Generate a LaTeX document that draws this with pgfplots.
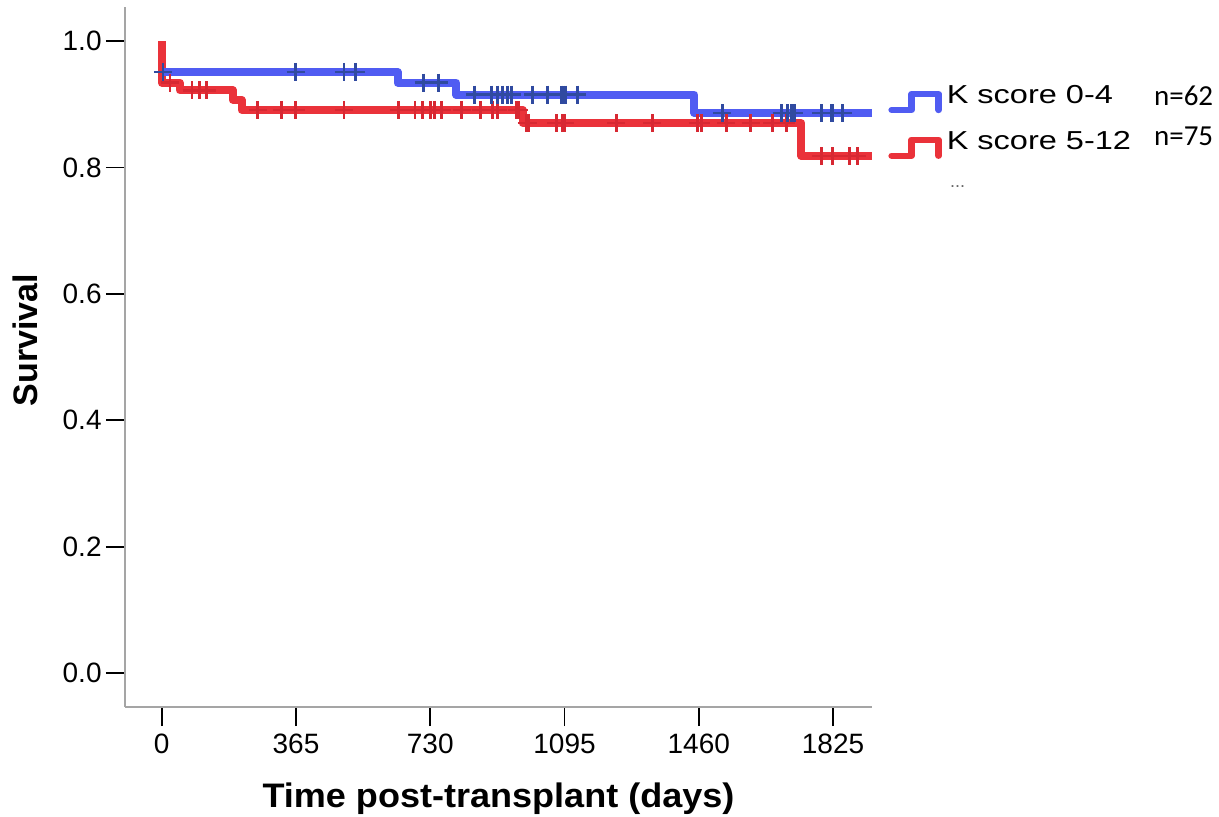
\documentclass[border=0pt]{standalone}
\usepackage{fontspec}
\setmainfont{Liberation Sans}
\newfontfamily\legfont[FakeStretch=1.25]{Liberation Sans}
\newfontfamily\xlabfont[FakeStretch=1.06]{Liberation Sans}
\newfontfamily\nfont{Carlito}
\usepackage{pgfplots}
\pgfplotsset{compat=1.18}
\definecolor{kblue}{RGB}{80,92,242}
\definecolor{kred}{RGB}{234,50,58}
\definecolor{cblue}{RGB}{48,74,160}
\definecolor{cred}{RGB}{215,40,50}
\definecolor{axgray}{RGB}{165,165,165}
\begin{document}
\begin{tikzpicture}
\useasboundingbox (-62.5pt,-54.5pt) rectangle (547pt,353.5pt);
\begin{axis}[
  at={(0pt,0pt)}, anchor=south west,
  scale only axis, width=373.5pt, height=350pt,
  xmin=-100, xmax=1931, ymin=-0.0538, ymax=1.0538,
  axis x line*=bottom, axis y line*=left,
  axis line style={-, axgray, line width=1.1pt},
  xtick={0,365,730,1095,1460,1825},
  xticklabels={0,365,730,1095,1460,1825},
  ytick={0,0.2,0.4,0.6,0.8,1.0},
  yticklabels={0.0,0.2,0.4,0.6,0.8,1.0},
  tick align=outside, major tick length=9.5pt,
  tick style={black, line width=0.9pt},
  ticklabel style={font=\fontsize{14}{16}\selectfont},
  yticklabel style={inner xsep=2pt},
  xticklabel style={inner ysep=4pt},
  xlabel={Time post-transplant (days)},
  xlabel style={font=\xlabfont\fontsize{17}{20}\selectfont\bfseries, at={(axis description cs:0.5,0)}, anchor=base, yshift=-50pt},
  ylabel={Survival},
  ylabel style={font=\fontsize{17}{20}\selectfont\bfseries, at={(axis description cs:-0.1178,0.5243)}, anchor=base},
  legend style={at={(axis description cs:1.0214,0.8886)}, anchor=north west, draw=none, fill=none, inner sep=0pt, row sep=9pt, column sep=2.5pt, nodes={inner sep=0pt, font=\legfont\fontsize{13}{15}\selectfont}},
  legend cell align=left,
  reverse legend,
  legend image code/.code={\draw[#1, line width=3.2pt, line cap=round, line join=round] (0pt,-7pt) -- (10pt,-7pt) -- (10pt,1pt) -- (23.5pt,1pt) -- (23.5pt,-7pt);},
]
% K score 5-12
\addplot[const plot, kred, line width=4pt, line join=round] coordinates {
(0,1) (0,0.934) (49,0.922) (193,0.907) (217,0.891) (981,0.870) (1739,0.818) (1931,0.818)};
\addlegendentry{K score 5-12}
\addplot[only marks, mark=+, mark size=4.5pt, cred, mark options={line width=1.3pt}, forget plot] coordinates {
(22,0.934) (82,0.922) (103,0.922) (122,0.922)
(261,0.891) (326,0.891) (364,0.891) (495,0.891) (644,0.891) (688,0.891) (709,0.891) (731,0.891) (742,0.891) (761,0.891) (815,0.891) (867,0.891) (899,0.891) (913,0.891) (965,0.891) (970,0.891)
(992,0.870) (997,0.870) (1073,0.870) (1090,0.870) (1095,0.870) (1236,0.870) (1334,0.870) (1457,0.870) (1467,0.870) (1535,0.870) (1601,0.870) (1660,0.870) (1698,0.870)
(1793,0.818) (1823,0.818) (1870,0.818) (1891,0.818)};
% K score 0-4
\addplot[const plot, kblue, line width=4pt, line join=round] coordinates {
(0,0.951) (641,0.934) (801,0.915) (1448,0.886) (1931,0.886)};
\addlegendentry{K score 0-4}
\addplot[only marks, mark=+, mark size=4.5pt, cblue, mark options={line width=1.3pt}, forget plot] coordinates {
(3,0.951) (364,0.951) (495,0.951) (527,0.951)
(712,0.934) (753,0.934)
(851,0.915) (897,0.915) (913,0.915) (927,0.915) (940,0.915) (951,0.915) (1008,0.915) (1049,0.915) (1087,0.915) (1092,0.915) (1098,0.915) (1130,0.915)
(1524,0.886) (1685,0.886) (1701,0.886) (1712,0.886) (1720,0.886) (1793,0.886) (1821,0.886) (1823,0.886) (1851,0.886)};
\end{axis}
\node[anchor=base west, font=\nfont\fontsize{14.5}{16}\selectfont] at (511pt,301pt) {n=62};
\node[anchor=base west, font=\nfont\fontsize{14.5}{16}\selectfont] at (511pt,281pt) {n=75};
\node[anchor=base west, font=\fontsize{9}{10}\selectfont, text=black!60] at (409pt,260pt) {...};
\end{tikzpicture}
\end{document}
